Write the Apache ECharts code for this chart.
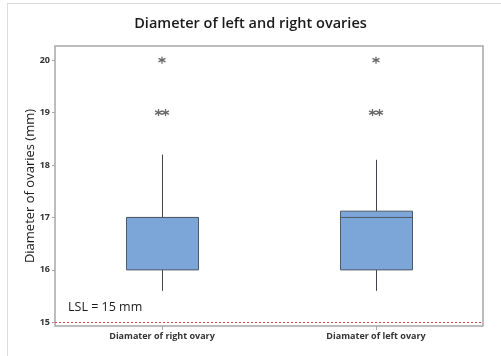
<!DOCTYPE html>
<html><head><meta charset="utf-8">
<script src="https://cdn.jsdelivr.net/npm/echarts@6/dist/echarts.min.js"></script>
<style>html,body{margin:0;padding:0;background:#fff}#c{width:501px;height:356px}</style>
</head><body><div id="c"></div>
<script>
var categories = ['Diamater of right ovary', 'Diamater of left ovary'];
// [min, Q1, median, Q3, max]
var rightOvaryBox = [15.6, 16, 17, 17, 18.2];
var leftOvaryBox = [15.6, 16, 17, 17.12, 18.1];
var rightOvaryOutliers = [20, 19, 19];
var leftOvaryOutliers = [20, 19, 19];
var lslValue = 15;
var yTicks = [15, 16, 17, 18, 19, 20];

var fontFam = '"Open Sans", "Noto Sans", sans-serif';
var star = 'path://M0,-5L0,5M-4.33,-2.5L4.33,2.5M-4.33,2.5L4.33,-2.5';

function outlierPoints(catIdx, vals) {
  var pts = [];
  var counts = {};
  vals.forEach(function (v) { counts[v] = (counts[v] || 0) + 1; });
  var seen = {};
  vals.forEach(function (v) {
    var n = counts[v];
    var k = seen[v] || 0; seen[v] = k + 1;
    var off = (k - (n - 1) / 2) * 7;
    pts.push({ value: [catIdx, v], symbolOffset: [off, 0] });
  });
  return pts;
}

var boxData = [[0].concat(rightOvaryBox), [1].concat(leftOvaryBox)];

function renderBox(params, api) {
  var x = api.value(0);
  var pMin = api.coord([x, api.value(1)]);
  var pQ1 = api.coord([x, api.value(2)]);
  var pMed = api.coord([x, api.value(3)]);
  var pQ3 = api.coord([x, api.value(4)]);
  var pMax = api.coord([x, api.value(5)]);
  var half = 36;
  var cx = Math.round(pMin[0]) + 0.5;
  var lineStyle = { stroke: '#3f444b', lineWidth: 1 };
  return {
    type: 'group',
    children: [
      { type: 'line', shape: { x1: cx, y1: pMin[1], x2: cx, y2: pQ1[1] }, style: lineStyle },
      { type: 'line', shape: { x1: cx, y1: pQ3[1], x2: cx, y2: pMax[1] }, style: lineStyle },
      { type: 'rect', shape: { x: cx - half, y: pQ3[1], width: 2 * half, height: pQ1[1] - pQ3[1] },
        style: { fill: '#7ca5d8', stroke: '#505a66', lineWidth: 1 } },
      { type: 'line', shape: { x1: cx - half, y1: pMed[1], x2: cx + half, y2: pMed[1] }, style: { stroke: '#505a66', lineWidth: 1 } }
    ]
  };
}

var chart = echarts.init(document.getElementById('c'));
chart.setOption({
  animation: false,
  title: {
    text: 'Diameter of left and right ovaries',
    left: 'center', top: 11,
    textStyle: { fontFamily: fontFam, fontSize: 14.5, fontWeight: 600, color: '#1a1a1a' }
  },
  grid: { left: 55, right: 18, top: 46, bottom: 30, show: true, borderColor: '#a8a8a8', borderWidth: 1.5, backgroundColor: '#fff' },
  xAxis: {
    type: 'category', data: categories,
    axisLine: { show: false },
    axisTick: { show: true, alignWithLabel: true, length: 4, lineStyle: { color: '#a8a8a8' } },
    axisLabel: { fontFamily: fontFam, fontSize: 9, fontWeight: 'bold', color: '#333', margin: 6 }
  },
  yAxis: {
    type: 'value', min: 14.93, max: 20.27,
    splitLine: { show: false },
    axisLine: { show: false },
    axisLabel: {
      fontFamily: fontFam, fontSize: 9, fontWeight: 'bold', color: '#333', margin: 5,
      customValues: yTicks, formatter: function (v) { return String(Math.round(v)); }
    },
    axisTick: { show: true, length: 3, customValues: yTicks, lineStyle: { color: '#a8a8a8' } },
    name: 'Diameter of ovaries (mm)', nameLocation: 'middle', nameGap: 18, nameMoveOverlap: false,
    nameTextStyle: { fontFamily: fontFam, fontSize: 13, fontWeight: 500, color: '#1a1a1a' }
  },
  graphic: [
    { type: 'line', shape: { x1: 7.5, y1: 3, x2: 7.5, y2: 356 }, style: { stroke: '#dcdcdc', lineWidth: 1 } },
    { type: 'line', shape: { x1: 7, y1: 3.5, x2: 501, y2: 3.5 }, style: { stroke: '#dcdcdc', lineWidth: 1 } },
    { type: 'text', left: 68, top: 301, style: { text: 'LSL = 15 mm', font: '12.5px "Open Sans", "Noto Sans", sans-serif', fill: '#1a1a1a' } }
  ],
  series: [
    {
      type: 'custom',
      renderItem: renderBox,
      encode: { x: 0, y: [1, 2, 3, 4, 5] },
      data: boxData,
      markLine: {
        silent: true, symbol: 'none',
        lineStyle: { color: '#e8404a', type: [2, 2], width: 1 },
        label: { show: false },
        data: [{ yAxis: lslValue }]
      }
    },
    {
      type: 'scatter',
      symbol: star, symbolSize: 7,
      itemStyle: { color: 'none', borderColor: '#444', borderWidth: 1.3 },
      data: outlierPoints(0, rightOvaryOutliers).concat(outlierPoints(1, leftOvaryOutliers))
    }
  ]
});
</script></body></html>
